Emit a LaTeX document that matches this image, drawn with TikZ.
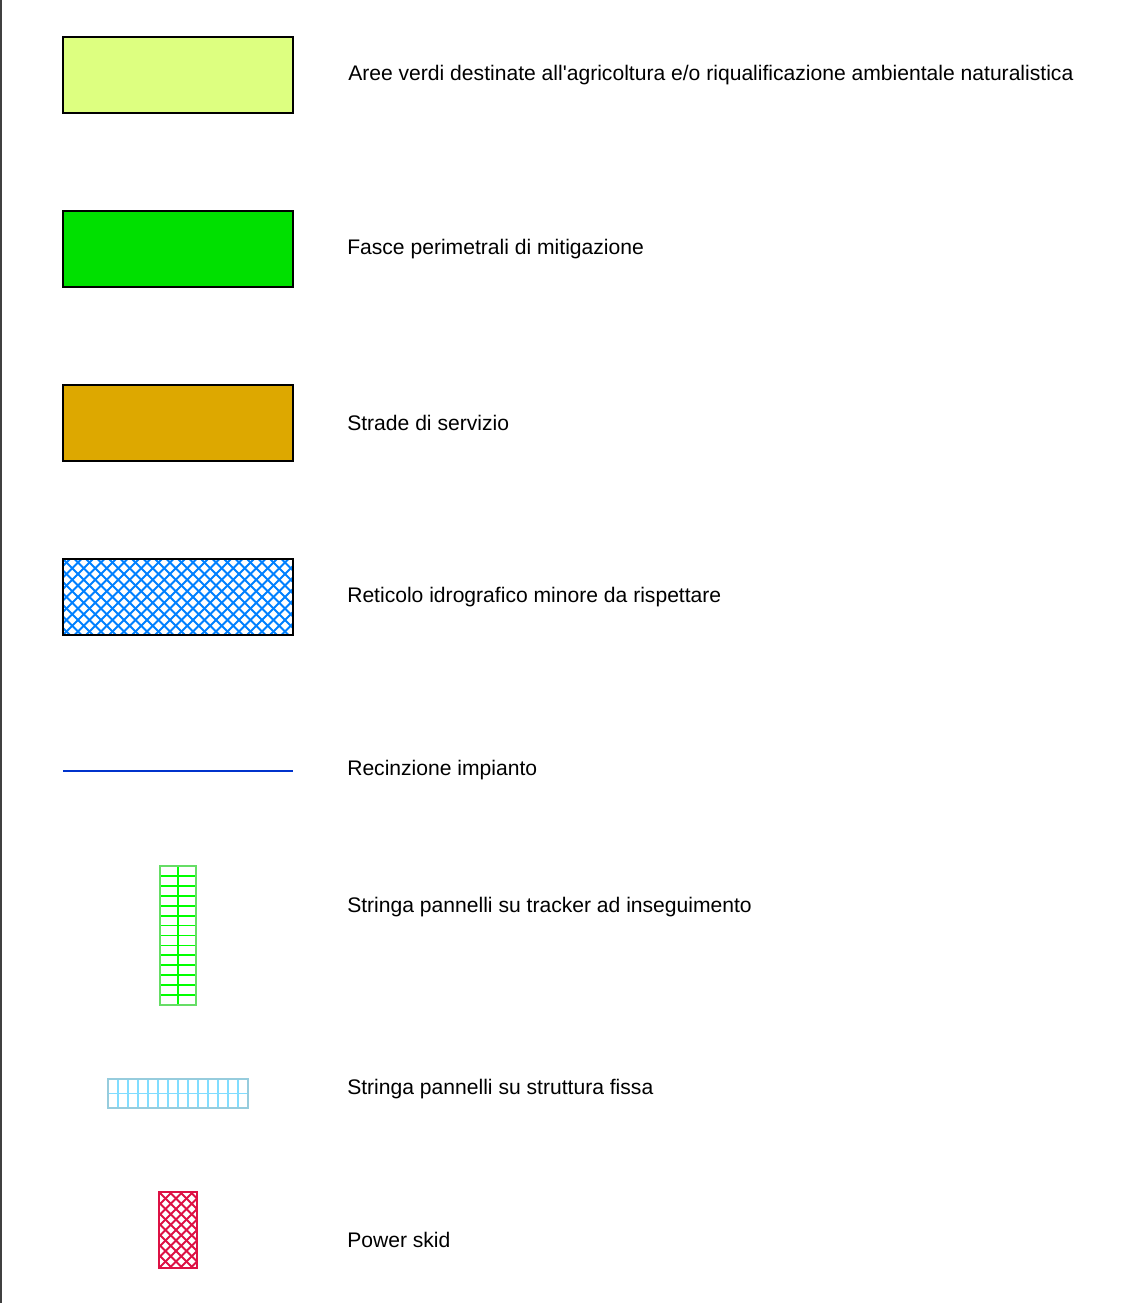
\documentclass[tikz,border=0pt]{standalone}
\usepackage{fontspec}
\setmainfont{Liberation Sans}
\usepackage{tikz}
\usetikzlibrary{positioning}
\definecolor{agri}{RGB}{221,255,128}
\definecolor{mitig}{RGB}{0,224,0}
\definecolor{road}{RGB}{221,168,0}
\definecolor{hydro}{RGB}{0,128,255}
\definecolor{fence}{RGB}{0,51,204}
\definecolor{tracker}{RGB}{0,255,0}
\definecolor{trackerframe}{RGB}{102,221,102}
\definecolor{fixed}{RGB}{128,221,255}
\definecolor{fixedframe}{RGB}{150,204,221}
\definecolor{skid}{RGB}{221,17,68}

\begin{document}
\begin{tikzpicture}[x=0.025cm,y=-0.025cm,
  lbl/.style={anchor=west,font=\fontsize{15}{17}\selectfont,inner sep=0pt},
  swatch/.style={draw=black,line width=1.7pt}]
  \useasboundingbox (0,0) rectangle (1143,1303);
  % frame on the left
  \draw[line width=1.2pt,black!75] (1,0) -- (1,1303);
  % plain filled swatches
  \foreach \y/\col in {37/agri,211/mitig,385/road}{
    \filldraw[swatch,fill=\col] (63,\y) rectangle (293,\y+76);
  }
  % cross hatched swatch (water courses)
  \def\hs{11.5}  % hatch step
  \begin{scope}
    \clip (63,559) rectangle (293,635);
    \foreach \k in {-8,...,22}{
      \draw[hydro,line width=1.3pt] (63+\k*\hs,559) -- ++(76,76);
      \draw[hydro,line width=1.3pt] (63+\k*\hs,635) -- ++(76,-76);
    }
  \end{scope}
  \draw[swatch] (63,559) rectangle (293,635);
  % fence line
  \draw[fence,line width=1.8pt] (63,771) -- (293,771);
  % tracker string: 2 x 14 panels
  \foreach \r in {1,...,13}{
    \draw[tracker,line width=1.3pt] (160,{866+\r*139/14}) -- (196,{866+\r*139/14});
  }
  \draw[tracker,line width=1.3pt] (178,866) -- (178,1005);
  \draw[trackerframe,line width=1.3pt] (160,866) rectangle (196,1005);
  % fixed structure string: 14 x 2 panels
  \foreach \c in {1,...,13}{
    \draw[fixed,line width=1.3pt] ({108+\c*10},1079) -- ({108+\c*10},1108);
  }
  \draw[fixed,line width=1.3pt] (108,1093.5) -- (248,1093.5);
  \draw[fixedframe,line width=1.3pt] (108,1079) rectangle (248,1108);
  % power skid
  \def\ps{10.5}
  \begin{scope}
    \clip (159,1192) rectangle (197,1268);
    \foreach \k in {-8,...,4}{
      \draw[skid,line width=1.3pt] (159+\k*\ps,1192) -- ++(76,76);
      \draw[skid,line width=1.3pt] (159+\k*\ps+76,1192) -- ++(-76,76);
    }
  \end{scope}
  \draw[skid,line width=1.3pt] (159,1192) rectangle (197,1268);
  % labels
  \node[lbl] (agri-lbl)    at (348,75.5)   {Aree verdi destinate all\textquotesingle agricoltura e/o riqualificazione ambientale naturalistica};
  \node[lbl] (mitig-lbl)   at (347,249.5)  {Fasce perimetrali di mitigazione};
  \node[lbl] (road-lbl)    at (347,422.5)  {Strade di servizio};
  \node[lbl] (hydro-lbl)   at (347,597.5)  {Reticolo idrografico minore da rispettare};
  \node[lbl] (fence-lbl)   at (347,770.5)  {Recinzione impianto};
  \node[lbl] (tracker-lbl) at (347,907.5)  {Stringa pannelli su tracker ad inseguimento};
  \node[lbl] (fixed-lbl)   at (347,1089.5) {Stringa pannelli su struttura fissa};
  \node[lbl] (skid-lbl)    at (347,1239.5) {Power skid};
\end{tikzpicture}
\end{document}
